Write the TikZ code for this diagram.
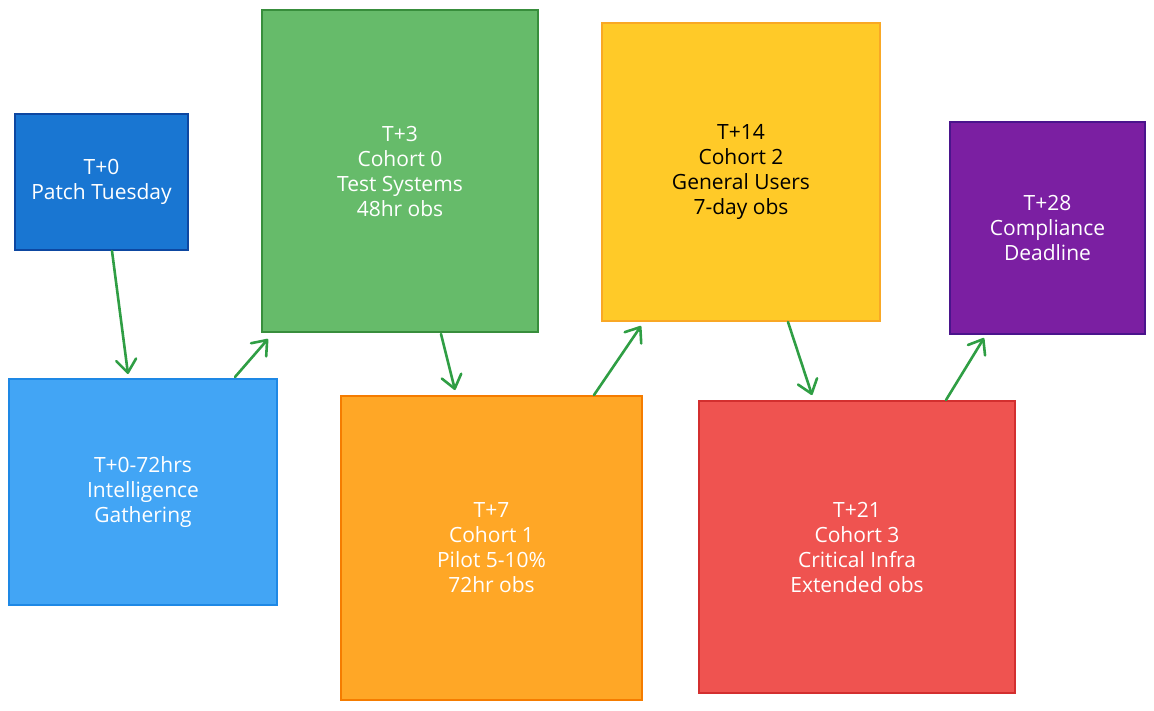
\documentclass[tikz,border=0pt]{standalone}
\usepackage{fontspec}
\setmainfont{Open Sans}
\usetikzlibrary{arrows.meta}

\definecolor{tzeroFill}{HTML}{1976D2}
\definecolor{tzeroLine}{HTML}{0D47A1}
\definecolor{gatherFill}{HTML}{42A5F5}
\definecolor{gatherLine}{HTML}{1E88E5}
\definecolor{cohortzeroFill}{HTML}{66BB6A}
\definecolor{cohortzeroLine}{HTML}{388E3C}
\definecolor{cohortoneFill}{HTML}{FFA726}
\definecolor{cohortoneLine}{HTML}{F57C00}
\definecolor{cohorttwoFill}{HTML}{FFCA28}
\definecolor{cohorttwoLine}{HTML}{F9A825}
\definecolor{cohortthreeFill}{HTML}{EF5350}
\definecolor{cohortthreeLine}{HTML}{D32F2F}
\definecolor{deadlineFill}{HTML}{7B1FA2}
\definecolor{deadlineLine}{HTML}{4A148C}
\definecolor{flowGreen}{HTML}{2F9E44}

\tikzset{every picture/.style={line width=2pt}}
\tikzset{
  phase/.style={draw, rectangle, inner sep=0pt, align=center, text=white,
    font=\fontsize{21}{25}\selectfont},
  flow/.style={draw=flowGreen, line width=2.6pt, line cap=round,
    -{Straight Barb[length=13pt,width=20pt,line width=2.6pt,round]}}
}

\begin{document}
\begin{tikzpicture}[x=1pt,y=1pt,yscale=-1,xscale=1]
\useasboundingbox (0,0) rectangle (1154,710);
% Phase boxes
\node[phase, fill=tzeroFill, draw=tzeroLine, minimum width=173pt, minimum height=136pt] (tzero) at (101.5,182) {T+0\\Patch Tuesday};
\node[phase, fill=gatherFill, draw=gatherLine, minimum width=268pt, minimum height=226pt] (gather) at (143,492) {T+0-72hrs\\Intelligence\\Gathering};
\node[phase, fill=cohortzeroFill, draw=cohortzeroLine, minimum width=276pt, minimum height=322pt] (cohortzero) at (400,171) {T+3\\Cohort 0\\Test Systems\\48hr obs};
\node[phase, fill=cohortoneFill, draw=cohortoneLine, minimum width=301pt, minimum height=304pt] (cohortone) at (491.5,548) {T+7\\Cohort 1\\Pilot 5-10\%\\72hr obs};
\node[phase, fill=cohorttwoFill, draw=cohorttwoLine, text=black, minimum width=278pt, minimum height=298pt] (cohorttwo) at (741,172) {T+14\\Cohort 2\\General Users\\7-day obs};
\node[phase, fill=cohortthreeFill, draw=cohortthreeLine, minimum width=316pt, minimum height=292pt] (cohortthree) at (857,547) {T+21\\Cohort 3\\Critical Infra\\Extended obs};
\node[phase, fill=deadlineFill, draw=deadlineLine, minimum width=195pt, minimum height=212pt] (deadline) at (1047.5,228) {T+28\\Compliance\\Deadline};

% Connectors
\draw[flow] ([xshift=10.5pt]tzero.south) -- ([xshift=-15pt,yshift=-4pt]gather.north);
\draw[flow] ([xshift=92pt,yshift=-1pt]gather.north) -- ([xshift=-132pt,yshift=6pt]cohortzero.south);
\draw[flow] ([xshift=41pt,yshift=1pt]cohortzero.south) -- ([xshift=-36.5pt,yshift=-5pt]cohortone.north);
\draw[flow] ([xshift=102.5pt]cohortone.north) -- ([xshift=-100pt,yshift=4pt]cohorttwo.south);
\draw[flow] ([xshift=47pt]cohorttwo.south) -- ([xshift=-45pt,yshift=-5pt]cohortthree.north);
\draw[flow] ([xshift=89pt]cohortthree.north) -- ([xshift=-63.5pt,yshift=3pt]deadline.south);
\end{tikzpicture}
\end{document}
